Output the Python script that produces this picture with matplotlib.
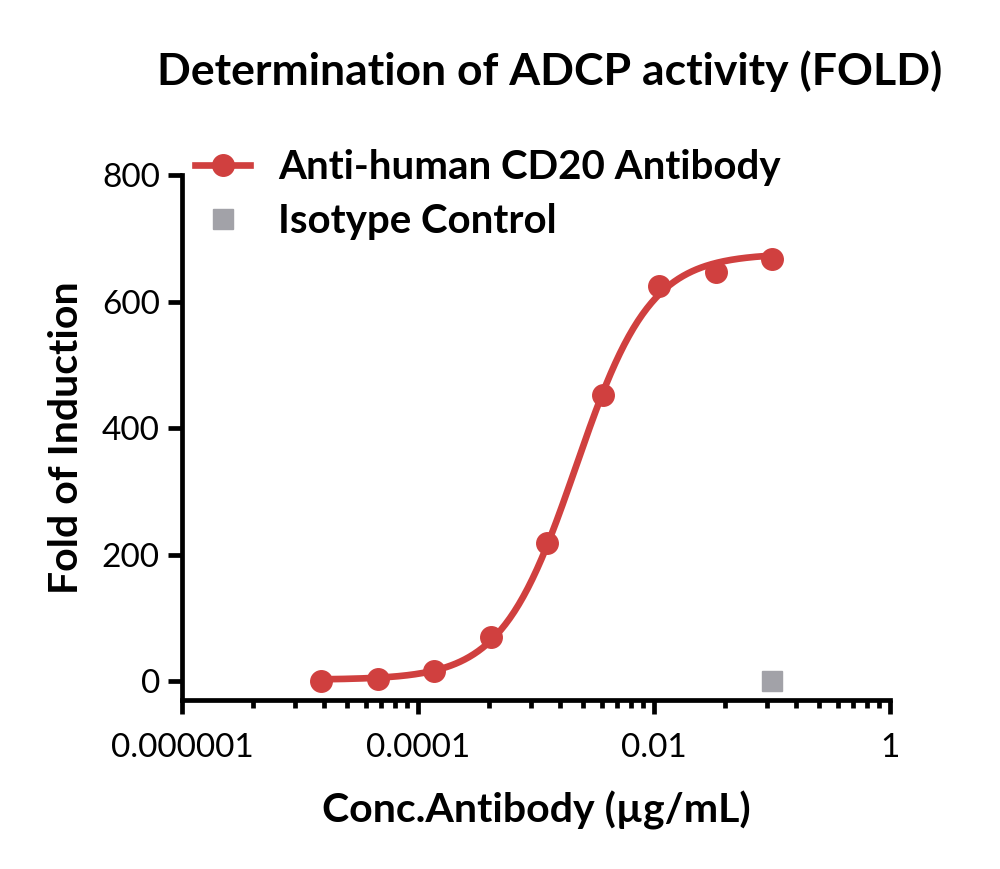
import numpy as np
import matplotlib
matplotlib.use("Agg")
import matplotlib.pyplot as plt
from matplotlib.ticker import FixedLocator, NullFormatter

plt.rcParams['font.family'] = ['Lato', 'DejaVu Sans']

# data
conc = [1.52e-5, 4.57e-5, 1.37e-4, 4.12e-4, 1.235e-3, 3.70e-3, 0.0111, 0.0333, 0.1]
fold = [0.5, 3, 16, 69, 218, 452, 624, 646, 667]
iso_conc = [0.1]
iso_fold = [0]

# 4PL fit parameters (bottom, top, EC50, hill) estimated from the drawn curve
fit_bottom = 2.0
fit_top = 676.0
fit_ec50 = 2.18e-3
fit_hill = 1.38

major_ticks = [1e-6, 1e-4, 1e-2, 1]
major_labels = ["0.000001", "0.0001", "0.01", "1"]
y_ticks = [0, 200, 400, 600, 800]

RED = '#D0403F'
GREY = '#A2A2A8'


def four_pl(x):
    return fit_bottom + (fit_top - fit_bottom) / (1 + (fit_ec50 / x) ** fit_hill)


def main():
    fig = plt.figure(figsize=(10, 8.69), dpi=100)
    ax = fig.add_axes([0.182, 0.1945, 0.708, 0.6041])

    xs = np.logspace(np.log10(conc[0]), np.log10(conc[-1]), 300)
    ax.plot(xs, four_pl(xs), color=RED, lw=4.8, solid_capstyle='round', zorder=2)
    ax.plot(conc, fold, 'o', color=RED, ms=15.5, zorder=3)
    ax.plot(iso_conc, iso_fold, 's', color=GREY, ms=15, zorder=3)

    ax.set_xscale('log')
    ax.set_xlim(1e-6, 1)
    ax.set_ylim(-30, 800)

    # minor ticks like Prism: k^2 steps within each 2-decade span
    minor = []
    for base in [1e-6, 1e-4, 1e-2]:
        for k in range(2, 10):
            minor.append(base * k * k)
    ax.xaxis.set_major_locator(FixedLocator(major_ticks))
    ax.xaxis.set_minor_locator(FixedLocator(minor))
    ax.xaxis.set_minor_formatter(NullFormatter())
    ax.set_xticklabels(major_labels)
    ax.set_yticks(y_ticks)

    for s in ['top', 'right']:
        ax.spines[s].set_visible(False)
    for s in ['left', 'bottom']:
        ax.spines[s].set_linewidth(3.4)
        ax.spines[s].set_capstyle('projecting')
    ax.spines['left'].set_bounds(-30, 800)

    ax.tick_params(axis='both', which='major', length=10, width=3.4, labelsize=24, pad=6)
    ax.tick_params(axis='x', which='minor', length=5.5, width=3.4)
    ax.tick_params(axis='x', which='major', pad=14)

    ax.set_xlabel("Conc.Antibody (µg/mL)", fontsize=29.5, fontweight='bold', labelpad=20)
    ax.set_ylabel("Fold of Induction", fontsize=29.5, fontweight='bold', labelpad=12)

    fig.text(0.55, 0.918, "Determination of ADCP activity (FOLD)", fontsize=32,
             fontweight='bold', ha='center', va='center')

    h1, = ax.plot([], [], '-o', color=RED, lw=4.8, ms=15.5)
    h2, = ax.plot([], [], 's', color=GREY, ms=14)
    fig.legend([h1, h2], ["Anti-human CD20 Antibody", "Isotype Control"],
               loc='upper left', bbox_to_anchor=(0.195, 0.828), frameon=False,
               prop={'weight': 'bold', 'size': 29}, handlelength=1.37,
               handletextpad=0.7, labelspacing=0.41, borderpad=0, borderaxespad=0)

    fig.savefig("out.png", dpi=100)


if __name__ == '__main__':
    main()
